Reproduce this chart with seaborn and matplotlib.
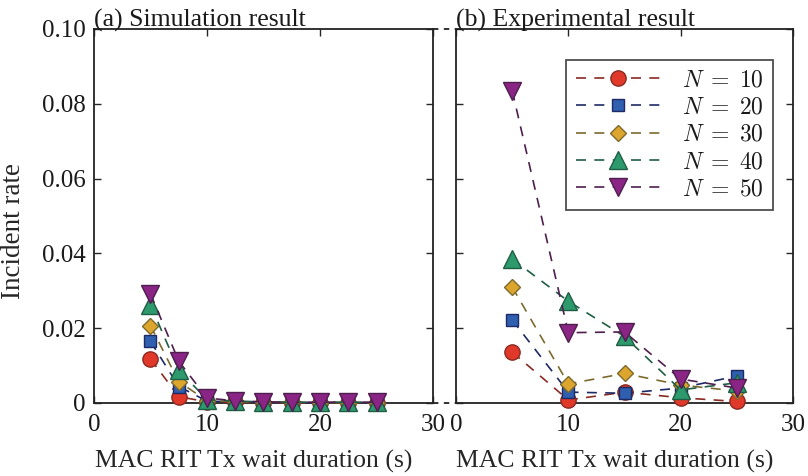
import matplotlib
matplotlib.use("Agg")
import matplotlib.pyplot as plt
import seaborn as sns
from matplotlib.lines import Line2D
from matplotlib.ticker import FuncFormatter

# ── Data ──────────────────────────────────────────────────────────────────────
sim_x = [5, 7.5, 10, 12.5, 15, 17.5, 20, 22.5, 25]
sim_n10 = [0.0118, 0.0017, 0.0003, 0.0002, 0.0001, 0.0001, 0.0001, 0.0001, 0.0001]
sim_n20 = [0.0165, 0.0044, 0.0005, 0.0003, 0.0002, 0.0001, 0.0001, 0.0001, 0.0001]
sim_n30 = [0.0207, 0.0057, 0.0006, 0.0004, 0.0002, 0.0002, 0.0001, 0.0001, 0.0001]
sim_n40 = [0.0262, 0.0088, 0.0009, 0.0005, 0.0003, 0.0002, 0.0002, 0.0002, 0.0002]
sim_n50 = [0.0292, 0.0112, 0.0013, 0.0006, 0.0003, 0.0002, 0.0002, 0.0002, 0.0002]

exp_x = [5, 10, 15, 20, 25]
exp_n10 = [0.0136, 0.0008, 0.0029, 0.0014, 0.0004]
exp_n20 = [0.0222, 0.0029, 0.0026, 0.0040, 0.0072]
exp_n30 = [0.0310, 0.0051, 0.0079, 0.0048, 0.0032]
exp_n40 = [0.0385, 0.0272, 0.0178, 0.0035, 0.0054]
exp_n50 = [0.0835, 0.0188, 0.0190, 0.0064, 0.0040]

labels = [r"$N\;=\;10$", r"$N\;=\;20$", r"$N\;=\;30$", r"$N\;=\;40$", r"$N\;=\;50$"]
sim_series = [sim_n10, sim_n20, sim_n30, sim_n40, sim_n50]
exp_series = [exp_n10, exp_n20, exp_n30, exp_n40, exp_n50]

# style per series: line colour, face colour, marker, marker size
line_colors = ["#8a2a22", "#1e2a66", "#7d6a2e", "#1f5e44", "#4e1e4e"]
face_colors = ["#e0392a", "#2f5fae", "#dca52e", "#2c9a6c", "#8a2585"]
markers = ["o", "s", "D", "^", "v"]
msizes = [11, 8.5, 8.5, 13, 13]

# ── Style ─────────────────────────────────────────────────────────────────────
sns.set_style("ticks")
plt.rcParams["font.family"] = ["Liberation Serif", "DejaVu Serif"]
plt.rcParams["mathtext.fontset"] = "cm"
plt.rcParams["font.size"] = 18
plt.rcParams["text.color"] = "#1a1a1a"

fig = plt.figure(figsize=(8.08, 4.76), dpi=100)
ax1 = fig.add_axes([0.1163, 0.1534, 0.4196, 0.7857])
ax2 = fig.add_axes([0.5644, 0.1534, 0.4170, 0.7857])


def draw(ax, xs, series_list):
    for i, ys in enumerate(series_list):
        sns.lineplot(x=xs, y=ys, ax=ax, color=line_colors[i],
                     linestyle=(0, (6, 5)), linewidth=1.2,
                     marker=markers[i], markersize=msizes[i],
                     markerfacecolor=face_colors[i],
                     markeredgecolor=line_colors[i], markeredgewidth=1.0,
                     label=labels[i], legend=False, clip_on=False, zorder=3)


draw(ax1, sim_x, sim_series)
draw(ax2, exp_x, exp_series)

for ax in (ax1, ax2):
    ax.set_xlim(0, 30)
    ax.set_ylim(0, 0.10)
    ax.set_xticks([0, 10, 20, 30])
    ax.set_yticks([0, 0.02, 0.04, 0.06, 0.08, 0.10])
    ax.tick_params(direction="in", top=True, right=True, length=5,
                   width=1.0, labelsize=18, labelcolor="#1a1a1a")
    ax.tick_params(axis="x", pad=8)
    ax.tick_params(axis="y", pad=6)
    for sp in ax.spines.values():
        sp.set_linewidth(1.3)
        sp.set_color("#222222")
    ax.set_xlabel("MAC RIT Tx wait duration (s)", fontsize=18.5, labelpad=10)
    ax.xaxis.label.set_x(0.47)

ax1.yaxis.set_major_formatter(FuncFormatter(lambda v, p: "0" if v == 0 else f"{v:.2f}"))
ax1.set_ylabel("Incident rate", fontsize=19.5)
ax1.yaxis.set_label_coords(-0.20, 0.46)
ax2.set_yticklabels([])
ax2.set_ylabel("")

ax1.set_title("(a) Simulation result", loc="left", fontsize=18.5, pad=2)
ax2.set_title("(b) Experimental result", loc="left", fontsize=18.5, pad=2)

leg = ax2.legend(loc="upper right", bbox_to_anchor=(0.941, 0.917),
                 borderaxespad=0, fontsize=17, handlelength=3.6,
                 frameon=True, fancybox=False, borderpad=0.4,
                 labelspacing=0.25, handletextpad=0.9)
leg.get_frame().set_edgecolor("#222222")
leg.get_frame().set_linewidth(1.3)

# broken-axis dashes between panels
for yy in (0.1534, 0.9391):
    fig.add_artist(Line2D([0.5359, 0.5644], [yy, yy], transform=fig.transFigure,
                          color="#222222", linewidth=1.3, linestyle=(0, (3, 3))))

fig.savefig("out.png", dpi=100)
